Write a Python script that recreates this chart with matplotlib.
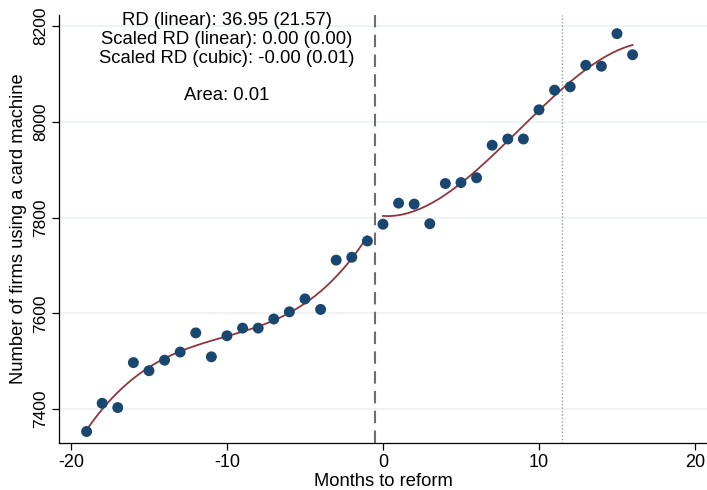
import numpy as np
import matplotlib
matplotlib.use("Agg")
import matplotlib.pyplot as plt

plt.rcParams["font.family"] = ["Liberation Sans", "DejaVu Sans"]
plt.rcParams["axes.unicode_minus"] = False

# Monthly counts before the reform (months -19 .. -1)
months_pre = [-19, -18, -17, -16, -15, -14, -13, -12, -11, -10,
              -9, -8, -7, -6, -5, -4, -3, -2, -1]
firms_pre = [7353, 7412, 7403, 7497, 7480, 7502, 7519, 7559, 7509, 7553,
             7569, 7569, 7588, 7603, 7630, 7608, 7711, 7717, 7751]

# Monthly counts after the reform (months 0 .. 16)
months_post = [0, 1, 2, 3, 4, 5, 6, 7, 8, 9, 10, 11, 12, 13, 14, 15, 16]
firms_post = [7786, 7830, 7828, 7787, 7871, 7873, 7883, 7951, 7964, 7964,
              8025, 8066, 8073, 8118, 8116, 8184, 8140]

x_ticks = [-20, -10, 0, 10, 20]
y_ticks = [7400, 7600, 7800, 8000, 8200]

cutoff = -0.5
window_end = 11.5

annotation = ("RD (linear): 36.95 (21.57)\n"
              "Scaled RD (linear): 0.00 (0.00)\n"
              "Scaled RD (cubic): -0.00 (0.01)\n"
              "\n"
              "Area: 0.01")

navy = "#1a476f"
maroon = "#90353b"

fig = plt.figure(figsize=(7.07, 4.90), dpi=100)
ax = fig.add_axes([0.0834, 0.0959, 0.9166, 0.8735])

# Cubic polynomial fits on each side of the cutoff
for xs, ys in ((months_pre, firms_pre), (months_post, firms_post)):
    coef = np.polyfit(xs, ys, 3)
    grid = np.linspace(min(xs), max(xs), 200)
    ax.plot(grid, np.polyval(coef, grid), color=maroon, lw=1.3, zorder=3)

ax.scatter(months_pre + months_post, firms_pre + firms_post,
           s=62, color=navy, edgecolors="none", zorder=4)

ax.axvline(cutoff, color="#6e6e6e", lw=1.5, ls=(0, (6, 3.5)), zorder=2)
ax.axvline(window_end, color="#9a9a9a", lw=1.0, ls=(0, (1, 1.5)), zorder=2)

ax.set_xlim(-20.77, 20.77)
ax.set_ylim(7329, 8223)
ax.set_xticks(x_ticks)
ax.set_yticks(y_ticks)
ax.yaxis.grid(True, color="#eaf2f3", lw=1.2, zorder=0)
ax.set_axisbelow(True)

for s in ("top", "right"):
    ax.spines[s].set_visible(False)
for s in ("left", "bottom"):
    ax.spines[s].set_color("#000000")
    ax.spines[s].set_linewidth(0.9)

ax.tick_params(axis="x", direction="out", length=5, width=0.9,
               labelsize=13, colors="#000000", pad=3)
ax.tick_params(axis="y", direction="out", length=5, width=0.9,
               labelsize=12.5, colors="#000000", pad=3)
for lab in ax.get_yticklabels():
    lab.set_rotation(90)
    lab.set_va("center")

ax.set_xlabel("Months to reform", fontsize=13.2, labelpad=1)
ax.set_ylabel("Number of firms using a card machine", fontsize=13.2, labelpad=4)

ax.text(-10.0, 8229, annotation, ha="center", va="top", fontsize=13.3,
        linespacing=1.14, zorder=5)

fig.savefig("out.png", dpi=100)
